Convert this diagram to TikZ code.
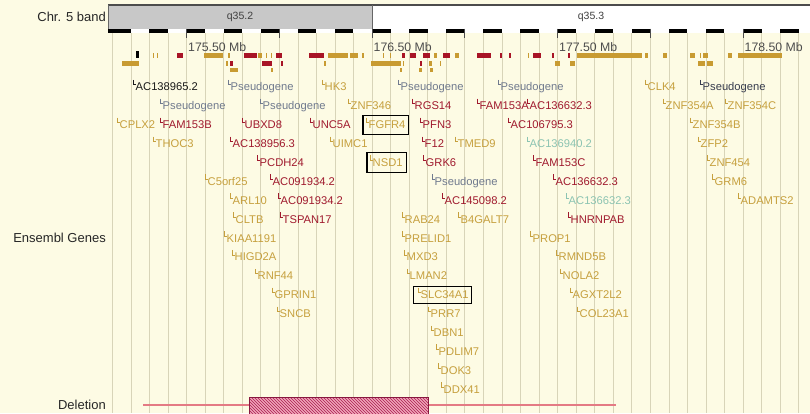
\documentclass[tikz,border=0pt]{standalone}
\usepackage{fontspec}
\setmainfont{Liberation Sans}
\usetikzlibrary{patterns}

\definecolor{bgcream}{RGB}{253,251,228}
\definecolor{gridline}{RGB}{216,212,184}
\definecolor{genegold}{RGB}{198,160,62}
\definecolor{genered}{RGB}{160,26,46}
\definecolor{pseudo}{RGB}{112,122,142}
\definecolor{pseudodark}{RGB}{55,60,78}
\definecolor{genenovel}{RGB}{140,196,178}
\definecolor{genedark}{RGB}{25,25,25}
\definecolor{blockgold}{RGB}{200,155,50}
\definecolor{blockred}{RGB}{168,20,38}
\definecolor{bandgray}{RGB}{200,200,200}
\definecolor{delline}{RGB}{228,122,132}
\definecolor{delfill}{RGB}{240,165,185}
\definecolor{delhatch}{RGB}{170,30,80}

% gene label with its start mark
\newcommand{\gene}[5]{%
  \node[gene,text=#4] (#1) at ({#2+2.5},{90.8+18.9*#3}) {#5};
  \draw[gtick,#4] (#1.base west) ++(-2.5pt,11pt) -- ++(0pt,-5pt) -- ++(2.5pt,0pt);
}

\begin{document}
\begin{tikzpicture}[x=1pt,y=-1pt]
\tikzset{gene/.style={font=\fontsize{11.2}{11.2}\selectfont,anchor=base west,inner sep=0pt},
  gtick/.style={line width=.7pt},
  trk/.style={font=\fontsize{13}{13}\selectfont,text=black!85,anchor=east,inner sep=0pt},
  mb/.style={font=\fontsize{12.3}{12.3}\selectfont,text=black!70,anchor=base west,inner sep=0pt},
  hl/.style={draw=black,line width=1.1pt},
  grid/.style={draw=gridline,line width=.6pt}}

\fill[bgcream] (0,0) rectangle (810,413);
\useasboundingbox (0,0) rectangle (810,413);

% grid
\foreach \k in {0,...,37}
  \draw[grid] ({112.3+18.55*\k},33) -- ({112.3+18.55*\k},413);

% band
\fill[bandgray] (108,5) rectangle (372,28.5);
\fill[white] (372,5) rectangle (810,28.5);
\draw[black!70,line width=1.5pt] (108,5) -- (810,5);
\draw[black!60,line width=.6pt] (372,5) -- (372,28.5);
\draw[black!60,line width=.6pt] (108,5) -- (108,28.5);
\node[trk] (band) at (106,17) {Chr. 5 band};
\node[font=\fontsize{10.5}{10.5}\selectfont,text=black!75] (q352) at (240,17) {q35.2};
\node[font=\fontsize{10.5}{10.5}\selectfont,text=black!75] (q353) at (591,17) {q35.3};

% scale
\fill[white] (108,28.5) rectangle (810,32.5);
\fill[black] (108,28.5) rectangle (112.3,32.5);
\foreach \k in {0,...,18}
  \fill[black] ({112.3+37.1*\k},28.5) rectangle ({112.3+37.1*\k+18.55},32.5);
\foreach \k in {0,...,6}
  \draw[black!70,line width=.8pt] ({186.5+92.75*\k},28.5) -- ({186.5+92.75*\k},38);
\node[mb] (mb1) at (188,51) {175.50 Mb};
\node[mb] (mb2) at (373.5,51) {176.50 Mb};
\node[mb] (mb3) at (559,51) {177.50 Mb};
\node[mb] (mb4) at (744.5,51) {178.50 Mb};

% gene blocks
\foreach \a/\b in {152.5/154,156.5/158,204/223,228/229.5,258/262,266/267.3,271/272.3,328/348,350/358,362/363.5,383/384.3,390/391.3,434/437,455/458.5,528/529.3,577/642,645/648,663/667,690/695,699.5/700.8,703/708,728/732,738/782}
  \fill[blockgold] (\a,52.5) rectangle (\b,58);
\foreach \a/\b in {177/183,244/257,276/282,309/324,402/405,410/416,423/430,443/450,477/491,500/501.5,509/510.5,533/541,552/553.5,568/569.5}
  \fill[blockred] (\a,52.5) rectangle (\b,58);
\fill[black] (136,51) rectangle (139,58);
\foreach \a/\b in {122/139,226/227.5,324/326,371/401,403/404.3,429/432,440/441.3,555/560,570/575,698/705,707/713}
  \fill[blockgold] (\a,60.5) rectangle (\b,65.5);
\foreach \a/\b in {230/232.5,262/272,281/283,420/422}
  \fill[blockred] (\a,60.5) rectangle (\b,65.5);
\foreach \a/\b in {230/238,271/273,400/401.5,419/422,430/433}
  \fill[blockgold] (\a,67.5) rectangle (\b,72);

% genes
\gene{ac138965}{133}{0}{genedark}{AC138965.2}
\gene{ps1}{228}{0}{pseudo}{Pseudogene}
\gene{hk3}{322}{0}{genegold}{HK3}
\gene{ps2}{398}{0}{pseudo}{Pseudogene}
\gene{ps3}{498}{0}{pseudo}{Pseudogene}
\gene{clk4}{645}{0}{genegold}{CLK4}
\gene{ps4}{700}{0}{pseudodark}{Pseudogene}

\gene{ps5}{160}{1}{pseudo}{Pseudogene}
\gene{ps6}{260}{1}{pseudo}{Pseudogene}
\gene{znf346}{348}{1}{genegold}{ZNF346}
\gene{rgs14}{412}{1}{genered}{RGS14}
\gene{fam153a}{477}{1}{genered}{FAM153A}
\gene{ac136632a}{527}{1}{genered}{AC136632.3}
\gene{znf354a}{663}{1}{genegold}{ZNF354A}
\gene{znf354c}{725}{1}{genegold}{ZNF354C}

\gene{cplx2}{117}{2}{genegold}{CPLX2}
\gene{fam153b}{160}{2}{genered}{FAM153B}
\gene{ubxd8}{242}{2}{genered}{UBXD8}
\gene{unc5a}{310}{2}{genered}{UNC5A}
\gene{fgfr4}{366}{2}{genegold}{FGFR4}
\gene{pfn3}{420}{2}{genered}{PFN3}
\gene{ac106795}{508}{2}{genered}{AC106795.3}
\gene{znf354b}{690}{2}{genegold}{ZNF354B}

\gene{thoc3}{153}{3}{genegold}{THOC3}
\gene{ac138956}{230}{3}{genered}{AC138956.3}
\gene{uimc1}{330}{3}{genegold}{UIMC1}
\gene{f12}{422}{3}{genered}{F12}
\gene{tmed9}{455}{3}{genegold}{TMED9}
\gene{ac136940}{527}{3}{genenovel}{AC136940.2}
\gene{zfp2}{698}{3}{genegold}{ZFP2}

\gene{pcdh24}{257}{4}{genered}{PCDH24}
\gene{nsd1}{370}{4}{genegold}{NSD1}
\gene{grk6}{423}{4}{genered}{GRK6}
\gene{fam153c}{533}{4}{genered}{FAM153C}
\gene{znf454}{707}{4}{genegold}{ZNF454}

\gene{c5orf25}{205}{5}{genegold}{C5orf25}
\gene{ac091934a}{270}{5}{genered}{AC091934.2}
\gene{ps7}{432}{5}{pseudo}{Pseudogene}
\gene{ac136632b}{553}{5}{genered}{AC136632.3}
\gene{grm6}{712}{5}{genegold}{GRM6}

\gene{arl10}{230}{6}{genegold}{ARL10}
\gene{ac091934b}{278}{6}{genered}{AC091934.2}
\gene{ac145098}{442}{6}{genered}{AC145098.2}
\gene{ac136632c}{566}{6}{genenovel}{AC136632.3}
\gene{adamts2}{738}{6}{genegold}{ADAMTS2}

\gene{cltb}{233}{7}{genegold}{CLTB}
\gene{tspan17}{280}{7}{genered}{TSPAN17}
\gene{rab24}{402}{7}{genegold}{RAB24}
\gene{b4galt7}{458}{7}{genegold}{B4GALT7}
\gene{hnrnpab}{568}{7}{genered}{HNRNPAB}

\gene{kiaa1191}{224}{8}{genegold}{KIAA1191}
\gene{prelid1}{402}{8}{genegold}{PRELID1}
\gene{prop1}{530}{8}{genegold}{PROP1}

\gene{higd2a}{232}{9}{genegold}{HIGD2A}
\gene{mxd3}{404}{9}{genegold}{MXD3}
\gene{rmnd5b}{556}{9}{genegold}{RMND5B}

\gene{rnf44}{255}{10}{genegold}{RNF44}
\gene{lman2}{407}{10}{genegold}{LMAN2}
\gene{nola2}{560}{10}{genegold}{NOLA2}

\gene{gprin1}{272}{11}{genegold}{GPRIN1}
\gene{slc34a1}{418}{11}{genegold}{SLC34A1}
\gene{agxt2l2}{570}{11}{genegold}{AGXT2L2}

\gene{sncb}{277}{12}{genegold}{SNCB}
\gene{prr7}{428}{12}{genegold}{PRR7}
\gene{col23a1}{577}{12}{genegold}{COL23A1}

\gene{dbn1}{431}{13}{genegold}{DBN1}
\gene{pdlim7}{436}{14}{genegold}{PDLIM7}
\gene{dok3}{438}{15}{genegold}{DOK3}
\gene{ddx41}{441}{16}{genegold}{DDX41}

% highlighted genes
\draw[hl] ([shift={(-5.5pt,-6pt)}]fgfr4.base west) rectangle ([shift={(2.5pt,13.5pt)}]fgfr4.base east);
\draw[hl] ([shift={(-5.5pt,-6pt)}]nsd1.base west) rectangle ([shift={(4pt,13.5pt)}]nsd1.base east);
\draw[hl] ([shift={(-7pt,-5pt)}]slc34a1.base west) rectangle ([shift={(3pt,12pt)}]slc34a1.base east);

\node[trk] (ens) at (106,238) {Ensembl Genes};

% deletion
\node[trk] (del) at (106,405) {Deletion};
\coordinate (dela) at (143,405);
\coordinate (delb) at (616,405);
\draw[delline,line width=1.8pt] (dela) -- (delb);
\fill[delfill] (249,397) rectangle (428,414);
\fill[pattern=north west lines,pattern color=delhatch] (249,397) rectangle (428,414);
\draw[delhatch!80!black,line width=.8pt] (249,397) rectangle (428,414);
\end{tikzpicture}
\end{document}
